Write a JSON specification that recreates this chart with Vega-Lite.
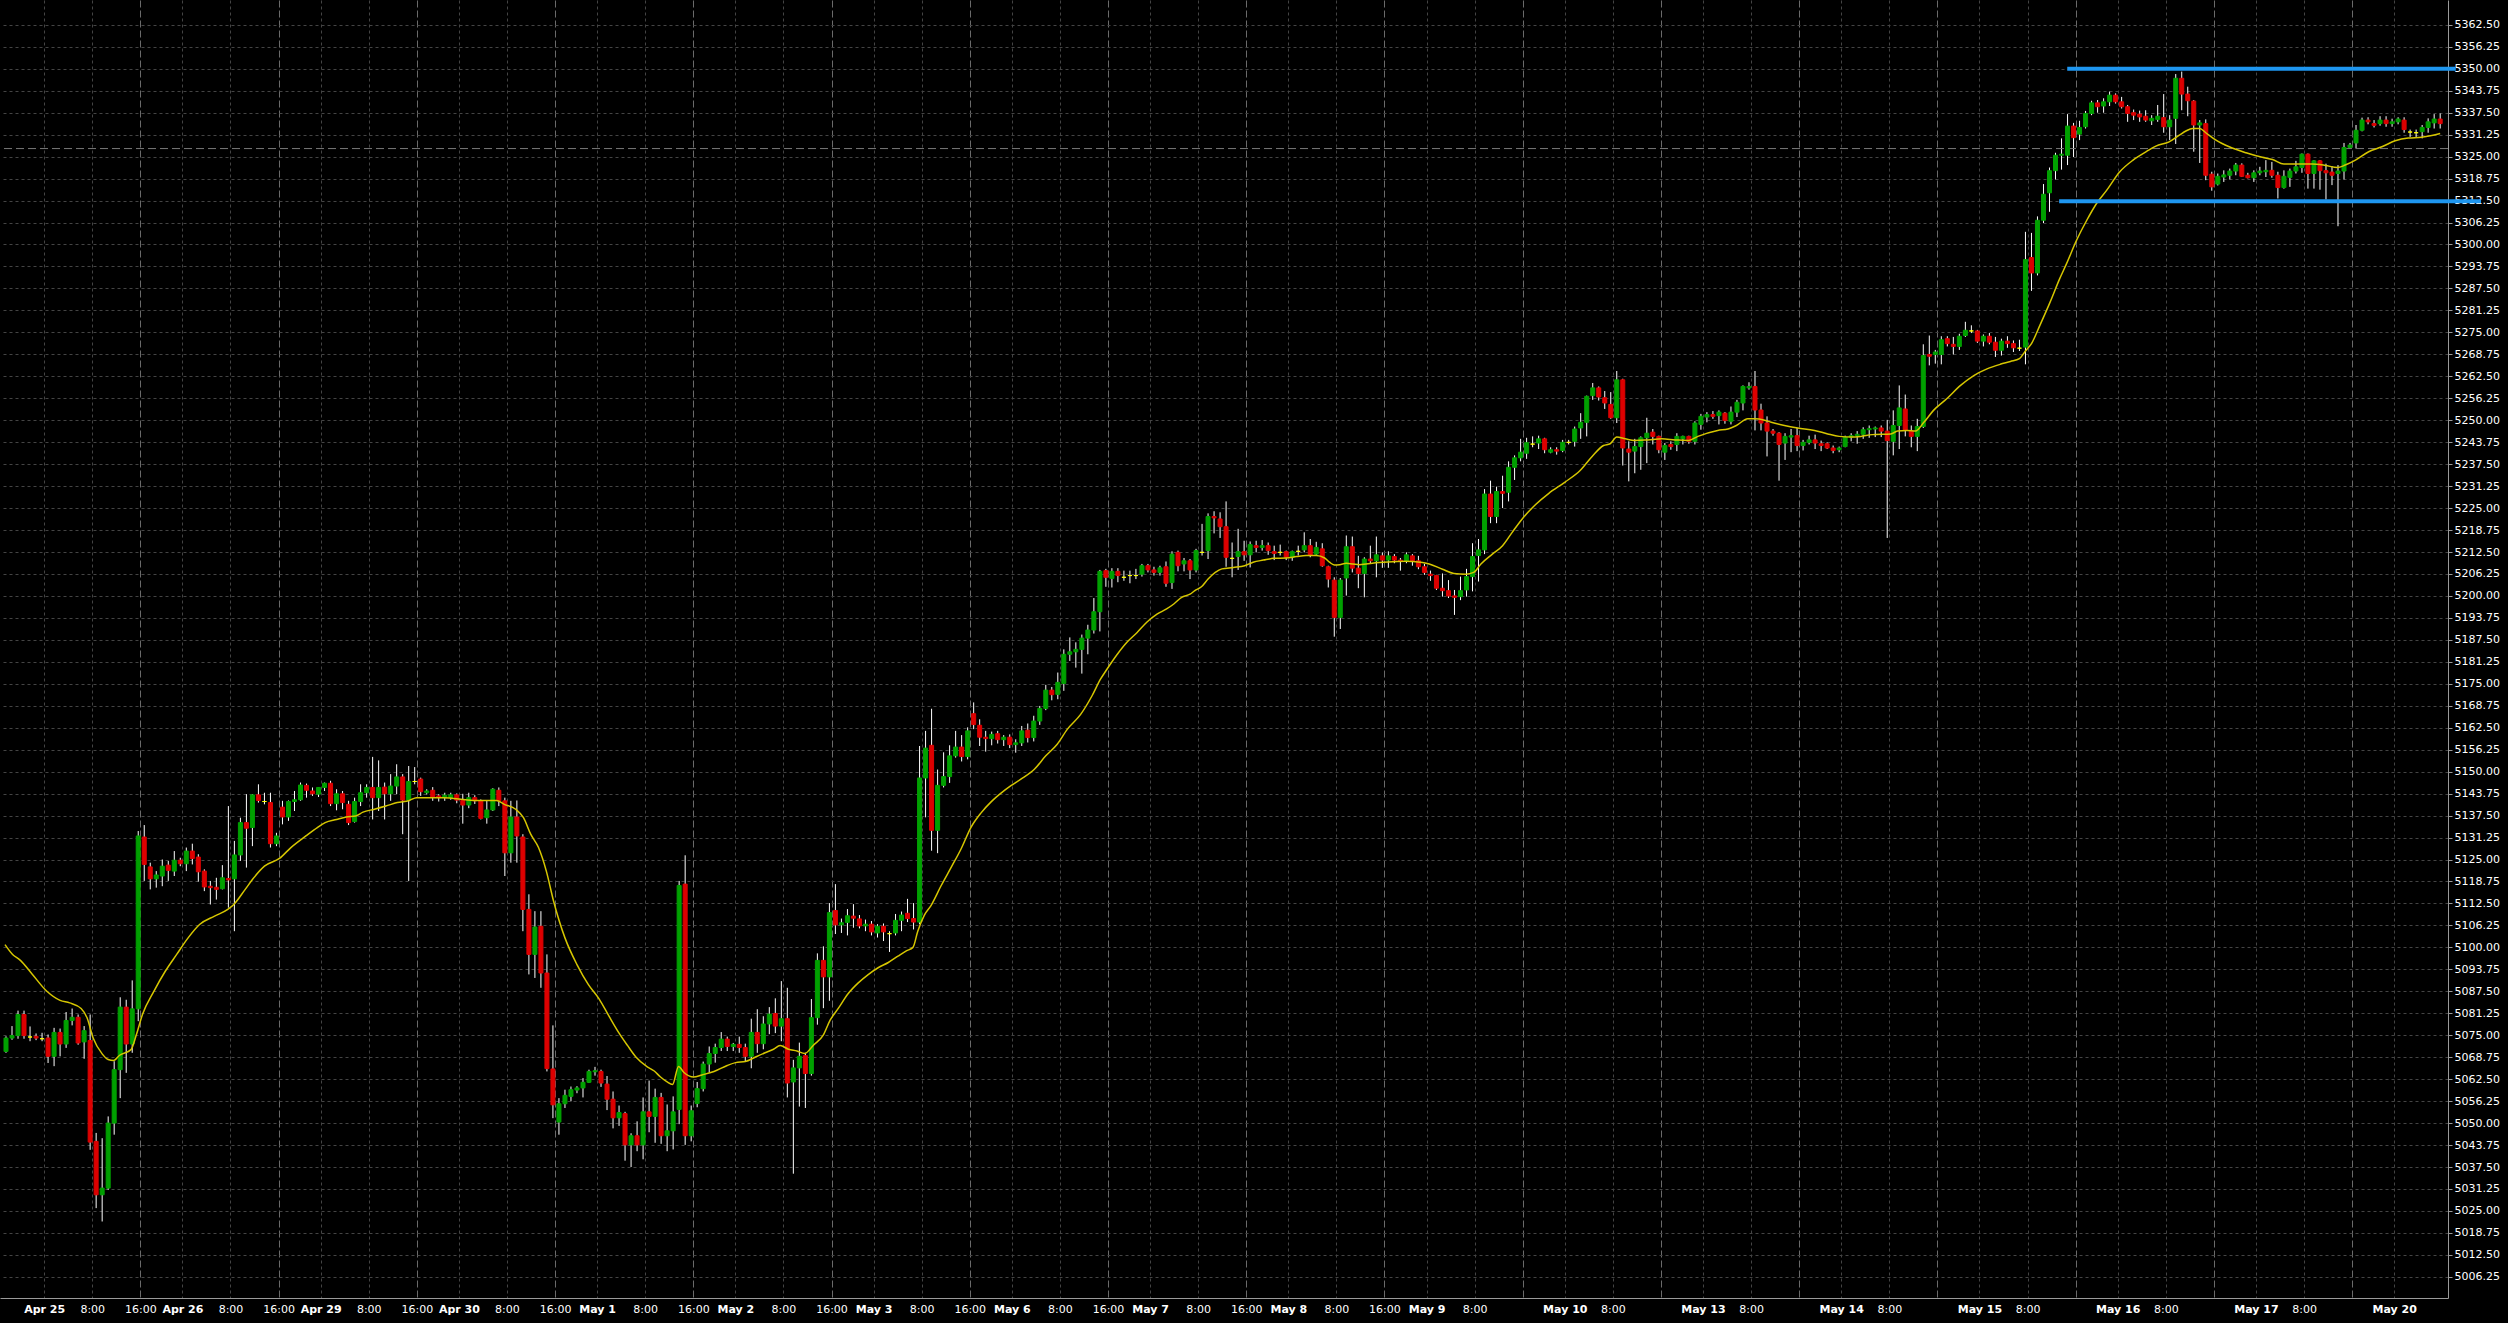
{
"$schema": "https://vega.github.io/schema/vega-lite/v6.json",
"width": 2448,
"height": 1298,
"padding": {"left": 0, "top": 0, "right": 60, "bottom": 25},
"autosize": {"type": "none"},
"background": "#000000",
"config": {"view": {"stroke": null}, "axis": {"labelFont": "DejaVu Sans", "labelFontSize": 11, "labelColor": "#ffffff"}},
"datasets": {
"bars": [
{"i":0,"o":5070.4,"h":5074.7,"l":5070.0,"c":5074.2},
{"i":1,"o":5074.2,"h":5077.6,"l":5073.7,"c":5074.9},
{"i":2,"o":5074.9,"h":5082.0,"l":5074.0,"c":5080.9},
{"i":3,"o":5080.9,"h":5082.0,"l":5074.0,"c":5074.9},
{"i":4,"o":5074.5,"h":5077.5,"l":5073.3,"c":5074.5},
{"i":5,"o":5074.7,"h":5075.5,"l":5073.6,"c":5074.2},
{"i":6,"o":5074.0,"h":5075.7,"l":5073.3,"c":5074.0},
{"i":7,"o":5074.2,"h":5075.2,"l":5067.1,"c":5069.0},
{"i":8,"o":5069.0,"h":5077.1,"l":5066.2,"c":5075.8},
{"i":9,"o":5075.8,"h":5076.9,"l":5069.0,"c":5072.5},
{"i":10,"o":5072.5,"h":5081.6,"l":5071.4,"c":5079.2},
{"i":11,"o":5079.2,"h":5082.6,"l":5077.8,"c":5080.1},
{"i":12,"o":5080.1,"h":5080.9,"l":5072.3,"c":5072.8},
{"i":13,"o":5073.1,"h":5077.6,"l":5068.3,"c":5076.3},
{"i":14,"o":5073.5,"h":5080.9,"l":5042.4,"c":5044.6},
{"i":15,"o":5044.8,"h":5047.2,"l":5025.8,"c":5029.6},
{"i":16,"o":5029.6,"h":5045.7,"l":5022.0,"c":5031.5},
{"i":17,"o":5031.5,"h":5051.9,"l":5031.0,"c":5050.0},
{"i":18,"o":5050.0,"h":5067.6,"l":5046.7,"c":5065.2},
{"i":19,"o":5065.2,"h":5085.8,"l":5057.1,"c":5083.0},
{"i":20,"o":5083.0,"h":5085.1,"l":5064.3,"c":5072.5},
{"i":21,"o":5072.5,"h":5090.6,"l":5070.0,"c":5082.5},
{"i":22,"o":5082.5,"h":5133.1,"l":5079.0,"c":5131.7},
{"i":23,"o":5131.4,"h":5134.8,"l":5118.9,"c":5123.6},
{"i":24,"o":5122.9,"h":5124.1,"l":5116.5,"c":5119.5},
{"i":25,"o":5119.5,"h":5121.7,"l":5117.0,"c":5120.6},
{"i":26,"o":5120.3,"h":5125.0,"l":5117.4,"c":5123.1},
{"i":27,"o":5123.4,"h":5124.6,"l":5118.9,"c":5121.9},
{"i":28,"o":5121.7,"h":5127.4,"l":5120.3,"c":5124.8},
{"i":29,"o":5124.8,"h":5125.5,"l":5123.1,"c":5123.8},
{"i":30,"o":5123.8,"h":5128.4,"l":5121.7,"c":5127.4},
{"i":31,"o":5127.4,"h":5129.5,"l":5123.6,"c":5125.3},
{"i":32,"o":5125.7,"h":5126.5,"l":5118.7,"c":5121.5},
{"i":33,"o":5121.7,"h":5122.2,"l":5116.0,"c":5117.2},
{"i":34,"o":5117.4,"h":5118.9,"l":5112.2,"c":5117.0},
{"i":35,"o":5117.1,"h":5119.8,"l":5113.6,"c":5116.5},
{"i":36,"o":5116.7,"h":5123.4,"l":5116.5,"c":5119.8},
{"i":37,"o":5119.6,"h":5140.2,"l":5111.3,"c":5119.2},
{"i":38,"o":5119.5,"h":5130.3,"l":5104.6,"c":5126.3},
{"i":39,"o":5126.3,"h":5136.9,"l":5124.6,"c":5135.5},
{"i":40,"o":5135.5,"h":5143.6,"l":5122.7,"c":5133.9},
{"i":41,"o":5134.1,"h":5143.6,"l":5128.8,"c":5143.4},
{"i":42,"o":5143.4,"h":5146.4,"l":5141.2,"c":5141.8},
{"i":43,"o":5141.5,"h":5144.0,"l":5140.7,"c":5141.5},
{"i":44,"o":5141.2,"h":5144.0,"l":5128.4,"c":5129.5},
{"i":45,"o":5129.5,"h":5132.6,"l":5128.8,"c":5131.7},
{"i":46,"o":5139.9,"h":5141.7,"l":5135.0,"c":5137.1},
{"i":47,"o":5137.1,"h":5141.8,"l":5136.0,"c":5141.5},
{"i":48,"o":5141.5,"h":5144.5,"l":5138.8,"c":5142.0},
{"i":49,"o":5142.0,"h":5146.9,"l":5141.7,"c":5146.2},
{"i":50,"o":5146.1,"h":5146.6,"l":5142.6,"c":5144.7},
{"i":51,"o":5144.5,"h":5145.5,"l":5143.1,"c":5143.7},
{"i":52,"o":5143.6,"h":5145.6,"l":5142.8,"c":5145.5},
{"i":53,"o":5145.5,"h":5146.9,"l":5144.5,"c":5146.7},
{"i":54,"o":5146.7,"h":5147.4,"l":5140.2,"c":5140.9},
{"i":55,"o":5140.9,"h":5145.0,"l":5139.0,"c":5143.7},
{"i":56,"o":5143.7,"h":5144.5,"l":5139.3,"c":5141.2},
{"i":57,"o":5140.7,"h":5141.7,"l":5134.8,"c":5135.5},
{"i":58,"o":5135.8,"h":5142.6,"l":5135.5,"c":5141.5},
{"i":59,"o":5141.5,"h":5146.4,"l":5140.2,"c":5144.0},
{"i":60,"o":5144.0,"h":5146.4,"l":5142.6,"c":5145.5},
{"i":61,"o":5145.5,"h":5154.2,"l":5136.4,"c":5142.6},
{"i":62,"o":5142.6,"h":5153.2,"l":5138.8,"c":5145.5},
{"i":63,"o":5145.6,"h":5146.9,"l":5136.4,"c":5143.7},
{"i":64,"o":5143.7,"h":5149.3,"l":5141.7,"c":5145.9},
{"i":65,"o":5145.9,"h":5152.1,"l":5143.6,"c":5148.5},
{"i":66,"o":5148.5,"h":5149.3,"l":5132.2,"c":5141.9},
{"i":67,"o":5141.9,"h":5151.6,"l":5118.9,"c":5147.2},
{"i":68,"o":5147.2,"h":5151.3,"l":5146.4,"c":5147.2},
{"i":69,"o":5147.9,"h":5148.3,"l":5143.1,"c":5144.3},
{"i":70,"o":5144.0,"h":5145.0,"l":5143.5,"c":5144.5},
{"i":71,"o":5144.7,"h":5145.6,"l":5141.7,"c":5142.8},
{"i":72,"o":5143.1,"h":5143.6,"l":5141.5,"c":5142.6},
{"i":73,"o":5142.6,"h":5144.0,"l":5141.7,"c":5143.3},
{"i":74,"o":5142.6,"h":5144.0,"l":5142.0,"c":5143.4},
{"i":75,"o":5143.4,"h":5143.8,"l":5141.0,"c":5141.9},
{"i":76,"o":5141.8,"h":5143.7,"l":5135.2,"c":5140.5},
{"i":77,"o":5140.5,"h":5144.0,"l":5139.6,"c":5142.6},
{"i":78,"o":5142.6,"h":5143.3,"l":5140.8,"c":5141.7},
{"i":79,"o":5141.7,"h":5142.1,"l":5136.4,"c":5136.7},
{"i":80,"o":5136.9,"h":5141.7,"l":5135.2,"c":5139.1},
{"i":81,"o":5139.1,"h":5145.3,"l":5138.8,"c":5145.0},
{"i":82,"o":5144.7,"h":5145.5,"l":5140.2,"c":5141.7},
{"i":83,"o":5141.7,"h":5142.6,"l":5120.3,"c":5126.9},
{"i":84,"o":5126.9,"h":5141.7,"l":5124.1,"c":5137.1},
{"i":85,"o":5137.1,"h":5141.8,"l":5124.1,"c":5131.7},
{"i":86,"o":5131.4,"h":5132.2,"l":5104.6,"c":5110.8},
{"i":87,"o":5110.8,"h":5115.1,"l":5092.3,"c":5098.0},
{"i":88,"o":5098.0,"h":5110.3,"l":5091.3,"c":5105.8},
{"i":89,"o":5106.0,"h":5110.3,"l":5088.5,"c":5092.7},
{"i":90,"o":5092.7,"h":5098.0,"l":5064.7,"c":5065.5},
{"i":91,"o":5065.4,"h":5077.8,"l":5051.4,"c":5055.2},
{"i":92,"o":5050.3,"h":5057.1,"l":5046.7,"c":5055.5},
{"i":93,"o":5055.5,"h":5059.5,"l":5054.3,"c":5057.9},
{"i":94,"o":5057.6,"h":5060.4,"l":5056.2,"c":5059.5},
{"i":95,"o":5059.4,"h":5060.5,"l":5058.5,"c":5060.0},
{"i":96,"o":5060.0,"h":5062.8,"l":5057.3,"c":5061.6},
{"i":97,"o":5061.6,"h":5065.2,"l":5061.4,"c":5064.7},
{"i":98,"o":5064.6,"h":5066.0,"l":5063.5,"c":5064.9},
{"i":99,"o":5064.7,"h":5065.2,"l":5060.3,"c":5061.4},
{"i":100,"o":5061.1,"h":5063.4,"l":5053.7,"c":5056.8},
{"i":101,"o":5056.8,"h":5059.0,"l":5048.5,"c":5051.5},
{"i":102,"o":5051.5,"h":5055.0,"l":5049.2,"c":5053.0},
{"i":103,"o":5052.7,"h":5053.2,"l":5039.3,"c":5043.8},
{"i":104,"o":5043.8,"h":5047.1,"l":5037.5,"c":5046.4},
{"i":105,"o":5046.4,"h":5050.5,"l":5042.0,"c":5043.8},
{"i":106,"o":5043.8,"h":5057.3,"l":5039.7,"c":5053.2},
{"i":107,"o":5053.2,"h":5062.1,"l":5047.4,"c":5051.9},
{"i":108,"o":5051.9,"h":5059.8,"l":5044.4,"c":5057.3},
{"i":109,"o":5057.3,"h":5058.6,"l":5044.1,"c":5046.4},
{"i":110,"o":5046.4,"h":5055.3,"l":5042.0,"c":5047.8},
{"i":111,"o":5047.8,"h":5057.6,"l":5042.5,"c":5053.2},
{"i":112,"o":5053.9,"h":5118.9,"l":5049.7,"c":5117.6},
{"i":113,"o":5118.0,"h":5126.2,"l":5043.8,"c":5046.4},
{"i":114,"o":5046.4,"h":5055.0,"l":5044.8,"c":5053.5},
{"i":115,"o":5055.6,"h":5061.7,"l":5054.5,"c":5059.8},
{"i":116,"o":5059.8,"h":5067.5,"l":5059.0,"c":5066.8},
{"i":117,"o":5066.8,"h":5071.8,"l":5064.4,"c":5069.8},
{"i":118,"o":5069.8,"h":5072.6,"l":5067.2,"c":5071.5},
{"i":119,"o":5071.5,"h":5075.9,"l":5070.5,"c":5073.9},
{"i":120,"o":5073.9,"h":5074.6,"l":5070.5,"c":5071.8},
{"i":121,"o":5071.8,"h":5072.8,"l":5070.5,"c":5072.4},
{"i":122,"o":5072.4,"h":5074.6,"l":5070.0,"c":5071.5},
{"i":123,"o":5071.5,"h":5072.6,"l":5067.5,"c":5069.0},
{"i":124,"o":5069.0,"h":5079.7,"l":5065.6,"c":5075.8},
{"i":125,"o":5075.8,"h":5082.4,"l":5070.0,"c":5072.6},
{"i":126,"o":5072.6,"h":5080.4,"l":5071.0,"c":5078.2},
{"i":127,"o":5078.2,"h":5083.0,"l":5075.3,"c":5081.0},
{"i":128,"o":5081.2,"h":5085.5,"l":5075.6,"c":5077.6},
{"i":129,"o":5077.6,"h":5090.4,"l":5073.3,"c":5079.7},
{"i":130,"o":5079.7,"h":5088.5,"l":5057.3,"c":5061.4},
{"i":131,"o":5061.7,"h":5068.0,"l":5035.6,"c":5065.7},
{"i":132,"o":5065.7,"h":5072.9,"l":5054.7,"c":5069.0},
{"i":133,"o":5069.2,"h":5070.0,"l":5054.3,"c":5064.1},
{"i":134,"o":5064.1,"h":5085.3,"l":5063.5,"c":5080.0},
{"i":135,"o":5080.0,"h":5098.3,"l":5078.0,"c":5096.3},
{"i":136,"o":5096.3,"h":5100.3,"l":5082.7,"c":5091.6},
{"i":137,"o":5091.6,"h":5112.6,"l":5084.8,"c":5109.9},
{"i":138,"o":5110.5,"h":5118.0,"l":5103.8,"c":5106.4},
{"i":139,"o":5106.4,"h":5108.2,"l":5104.1,"c":5107.0},
{"i":140,"o":5107.1,"h":5110.9,"l":5103.4,"c":5109.0},
{"i":141,"o":5108.9,"h":5112.3,"l":5105.6,"c":5108.3},
{"i":142,"o":5108.1,"h":5109.2,"l":5105.4,"c":5106.1},
{"i":143,"o":5106.1,"h":5107.9,"l":5104.6,"c":5106.6},
{"i":144,"o":5106.6,"h":5107.5,"l":5103.4,"c":5104.4},
{"i":145,"o":5104.1,"h":5106.6,"l":5102.8,"c":5106.0},
{"i":146,"o":5106.0,"h":5106.8,"l":5101.8,"c":5104.4},
{"i":147,"o":5103.9,"h":5104.6,"l":5098.7,"c":5103.9},
{"i":148,"o":5104.1,"h":5109.5,"l":5103.4,"c":5107.7},
{"i":149,"o":5107.7,"h":5110.2,"l":5104.6,"c":5109.2},
{"i":150,"o":5109.7,"h":5113.8,"l":5107.2,"c":5108.2},
{"i":151,"o":5108.2,"h":5112.6,"l":5105.1,"c":5107.2},
{"i":152,"o":5107.2,"h":5157.3,"l":5106.6,"c":5148.2},
{"i":153,"o":5148.2,"h":5161.6,"l":5137.0,"c":5156.7},
{"i":154,"o":5157.5,"h":5167.9,"l":5127.5,"c":5133.3},
{"i":155,"o":5133.3,"h":5150.6,"l":5126.8,"c":5146.1},
{"i":156,"o":5146.1,"h":5155.5,"l":5145.5,"c":5148.6},
{"i":157,"o":5148.6,"h":5157.5,"l":5146.8,"c":5154.5},
{"i":158,"o":5154.5,"h":5161.6,"l":5154.0,"c":5157.0},
{"i":159,"o":5157.0,"h":5160.4,"l":5152.9,"c":5154.3},
{"i":160,"o":5154.3,"h":5162.6,"l":5153.5,"c":5161.6},
{"i":161,"o":5166.5,"h":5169.7,"l":5162.1,"c":5163.4},
{"i":162,"o":5163.2,"h":5164.9,"l":5157.3,"c":5159.8},
{"i":163,"o":5159.8,"h":5161.6,"l":5155.7,"c":5159.4},
{"i":164,"o":5159.4,"h":5161.4,"l":5157.5,"c":5160.6},
{"i":165,"o":5160.8,"h":5161.6,"l":5158.0,"c":5159.1},
{"i":166,"o":5159.1,"h":5160.4,"l":5157.3,"c":5159.8},
{"i":167,"o":5159.8,"h":5160.6,"l":5156.7,"c":5157.7},
{"i":168,"o":5157.7,"h":5159.2,"l":5155.4,"c":5158.2},
{"i":169,"o":5158.2,"h":5163.0,"l":5157.3,"c":5161.6},
{"i":170,"o":5161.8,"h":5163.7,"l":5158.3,"c":5159.7},
{"i":171,"o":5159.7,"h":5165.9,"l":5158.6,"c":5164.4},
{"i":172,"o":5164.4,"h":5168.7,"l":5163.3,"c":5168.0},
{"i":173,"o":5168.0,"h":5174.7,"l":5167.5,"c":5173.2},
{"i":174,"o":5173.2,"h":5174.1,"l":5170.3,"c":5171.9},
{"i":175,"o":5172.0,"h":5178.2,"l":5170.6,"c":5175.4},
{"i":176,"o":5175.1,"h":5184.8,"l":5173.0,"c":5183.4},
{"i":177,"o":5183.4,"h":5188.2,"l":5181.5,"c":5184.1},
{"i":178,"o":5184.1,"h":5186.8,"l":5179.6,"c":5184.8},
{"i":179,"o":5184.8,"h":5189.0,"l":5177.9,"c":5188.0},
{"i":180,"o":5188.0,"h":5191.8,"l":5183.4,"c":5190.3},
{"i":181,"o":5190.3,"h":5199.4,"l":5189.3,"c":5195.5},
{"i":182,"o":5195.5,"h":5207.4,"l":5189.9,"c":5207.0},
{"i":183,"o":5207.2,"h":5207.7,"l":5202.6,"c":5205.3},
{"i":184,"o":5205.0,"h":5207.9,"l":5202.4,"c":5207.0},
{"i":185,"o":5207.0,"h":5207.9,"l":5203.9,"c":5205.8},
{"i":186,"o":5205.3,"h":5207.2,"l":5204.3,"c":5205.3},
{"i":187,"o":5205.8,"h":5207.2,"l":5203.6,"c":5205.8},
{"i":188,"o":5205.8,"h":5207.7,"l":5204.8,"c":5205.8},
{"i":189,"o":5206.2,"h":5209.1,"l":5205.5,"c":5208.6},
{"i":190,"o":5208.6,"h":5209.1,"l":5206.7,"c":5207.4},
{"i":191,"o":5207.4,"h":5208.3,"l":5205.8,"c":5206.7},
{"i":192,"o":5206.7,"h":5208.6,"l":5205.8,"c":5208.0},
{"i":193,"o":5208.3,"h":5209.8,"l":5202.6,"c":5203.6},
{"i":194,"o":5203.8,"h":5212.7,"l":5202.0,"c":5211.9},
{"i":195,"o":5212.4,"h":5212.9,"l":5207.0,"c":5208.6},
{"i":196,"o":5209.1,"h":5210.8,"l":5207.0,"c":5210.0},
{"i":197,"o":5210.0,"h":5210.5,"l":5204.8,"c":5207.4},
{"i":198,"o":5207.4,"h":5213.4,"l":5206.7,"c":5212.9},
{"i":199,"o":5212.4,"h":5220.5,"l":5211.5,"c":5212.4},
{"i":200,"o":5212.9,"h":5223.5,"l":5210.5,"c":5222.6},
{"i":201,"o":5222.6,"h":5224.1,"l":5217.8,"c":5222.2},
{"i":202,"o":5221.9,"h":5223.8,"l":5216.5,"c":5219.7},
{"i":203,"o":5219.7,"h":5226.9,"l":5208.3,"c":5211.0},
{"i":204,"o":5210.7,"h":5215.2,"l":5205.3,"c":5210.7},
{"i":205,"o":5211.2,"h":5219.1,"l":5207.4,"c":5212.6},
{"i":206,"o":5212.6,"h":5215.7,"l":5210.0,"c":5211.7},
{"i":207,"o":5211.7,"h":5215.5,"l":5208.1,"c":5214.6},
{"i":208,"o":5214.3,"h":5215.7,"l":5212.4,"c":5213.8},
{"i":209,"o":5213.8,"h":5215.9,"l":5212.9,"c":5214.3},
{"i":210,"o":5214.3,"h":5215.2,"l":5211.7,"c":5212.9},
{"i":211,"o":5212.6,"h":5214.3,"l":5210.2,"c":5212.1},
{"i":212,"o":5212.4,"h":5214.6,"l":5211.5,"c":5212.4},
{"i":213,"o":5212.6,"h":5212.9,"l":5210.2,"c":5211.0},
{"i":214,"o":5211.0,"h":5212.9,"l":5210.0,"c":5212.6},
{"i":215,"o":5212.7,"h":5214.3,"l":5211.5,"c":5212.7},
{"i":216,"o":5213.1,"h":5218.1,"l":5212.4,"c":5214.3},
{"i":217,"o":5214.3,"h":5216.2,"l":5211.0,"c":5211.7},
{"i":218,"o":5211.9,"h":5215.4,"l":5211.5,"c":5213.8},
{"i":219,"o":5213.4,"h":5215.0,"l":5208.3,"c":5208.6},
{"i":220,"o":5208.3,"h":5208.6,"l":5202.4,"c":5204.8},
{"i":221,"o":5204.5,"h":5205.3,"l":5188.4,"c":5193.9},
{"i":222,"o":5193.9,"h":5205.1,"l":5190.6,"c":5204.5},
{"i":223,"o":5205.1,"h":5217.2,"l":5200.1,"c":5214.0},
{"i":224,"o":5214.0,"h":5216.9,"l":5206.7,"c":5207.9},
{"i":225,"o":5207.9,"h":5211.4,"l":5202.2,"c":5206.4},
{"i":226,"o":5206.4,"h":5211.0,"l":5199.6,"c":5210.5},
{"i":227,"o":5210.5,"h":5214.3,"l":5209.1,"c":5210.0},
{"i":228,"o":5210.0,"h":5216.9,"l":5205.3,"c":5211.7},
{"i":229,"o":5211.4,"h":5212.4,"l":5208.0,"c":5210.2},
{"i":230,"o":5210.2,"h":5212.7,"l":5208.0,"c":5211.4},
{"i":231,"o":5211.2,"h":5211.9,"l":5209.3,"c":5210.2},
{"i":232,"o":5210.2,"h":5210.8,"l":5207.2,"c":5209.8},
{"i":233,"o":5210.0,"h":5212.4,"l":5209.3,"c":5211.7},
{"i":234,"o":5211.4,"h":5211.9,"l":5208.6,"c":5210.0},
{"i":235,"o":5210.0,"h":5211.4,"l":5207.6,"c":5208.3},
{"i":236,"o":5208.3,"h":5209.1,"l":5206.0,"c":5206.7},
{"i":237,"o":5206.2,"h":5207.2,"l":5204.3,"c":5205.8},
{"i":238,"o":5205.8,"h":5206.0,"l":5201.7,"c":5202.2},
{"i":239,"o":5202.2,"h":5206.4,"l":5199.8,"c":5201.5},
{"i":240,"o":5201.5,"h":5204.5,"l":5199.4,"c":5200.0},
{"i":241,"o":5200.0,"h":5201.7,"l":5194.6,"c":5199.6},
{"i":242,"o":5199.8,"h":5205.5,"l":5198.8,"c":5201.5},
{"i":243,"o":5201.7,"h":5207.7,"l":5199.8,"c":5205.5},
{"i":244,"o":5205.5,"h":5215.0,"l":5201.3,"c":5211.2},
{"i":245,"o":5211.5,"h":5216.2,"l":5204.1,"c":5213.1},
{"i":246,"o":5213.1,"h":5230.4,"l":5211.9,"c":5229.0},
{"i":247,"o":5229.0,"h":5232.8,"l":5220.7,"c":5222.6},
{"i":248,"o":5222.6,"h":5231.1,"l":5220.7,"c":5229.7},
{"i":249,"o":5229.7,"h":5234.2,"l":5225.0,"c":5229.2},
{"i":250,"o":5229.5,"h":5238.3,"l":5226.9,"c":5236.6},
{"i":251,"o":5236.6,"h":5240.0,"l":5233.0,"c":5239.3},
{"i":252,"o":5239.3,"h":5244.7,"l":5238.3,"c":5240.9},
{"i":253,"o":5240.6,"h":5245.0,"l":5239.0,"c":5243.6},
{"i":254,"o":5243.2,"h":5245.4,"l":5242.3,"c":5243.2},
{"i":255,"o":5243.5,"h":5245.6,"l":5241.8,"c":5244.7},
{"i":256,"o":5244.7,"h":5245.0,"l":5240.6,"c":5241.6},
{"i":257,"o":5240.9,"h":5242.3,"l":5240.6,"c":5241.6},
{"i":258,"o":5241.6,"h":5242.3,"l":5240.2,"c":5241.2},
{"i":259,"o":5241.4,"h":5244.4,"l":5240.9,"c":5243.7},
{"i":260,"o":5243.7,"h":5244.4,"l":5243.1,"c":5243.7},
{"i":261,"o":5244.0,"h":5248.2,"l":5242.5,"c":5247.5},
{"i":262,"o":5247.8,"h":5252.0,"l":5244.7,"c":5249.4},
{"i":263,"o":5249.4,"h":5257.0,"l":5245.4,"c":5256.8},
{"i":264,"o":5257.0,"h":5260.6,"l":5255.8,"c":5259.2},
{"i":265,"o":5259.2,"h":5259.6,"l":5255.6,"c":5256.6},
{"i":266,"o":5256.4,"h":5258.3,"l":5253.2,"c":5254.9},
{"i":267,"o":5254.5,"h":5258.0,"l":5250.4,"c":5250.7},
{"i":268,"o":5250.7,"h":5264.0,"l":5249.2,"c":5261.5},
{"i":269,"o":5261.5,"h":5261.8,"l":5237.1,"c":5242.1},
{"i":270,"o":5241.8,"h":5244.0,"l":5232.6,"c":5240.9},
{"i":271,"o":5241.2,"h":5244.7,"l":5234.9,"c":5242.5},
{"i":272,"o":5242.5,"h":5245.4,"l":5235.9,"c":5245.0},
{"i":273,"o":5245.0,"h":5250.7,"l":5237.8,"c":5246.3},
{"i":274,"o":5246.6,"h":5247.5,"l":5243.1,"c":5245.4},
{"i":275,"o":5245.4,"h":5245.6,"l":5240.6,"c":5241.6},
{"i":276,"o":5240.9,"h":5243.5,"l":5238.7,"c":5242.8},
{"i":277,"o":5243.1,"h":5244.0,"l":5241.6,"c":5242.5},
{"i":278,"o":5243.1,"h":5246.3,"l":5241.2,"c":5245.4},
{"i":279,"o":5244.7,"h":5245.6,"l":5243.1,"c":5245.4},
{"i":280,"o":5245.4,"h":5245.6,"l":5243.3,"c":5244.0},
{"i":281,"o":5244.0,"h":5249.7,"l":5243.1,"c":5249.2},
{"i":282,"o":5248.8,"h":5251.8,"l":5247.3,"c":5251.1},
{"i":283,"o":5250.9,"h":5252.3,"l":5249.4,"c":5251.6},
{"i":284,"o":5251.6,"h":5252.6,"l":5250.4,"c":5251.1},
{"i":285,"o":5251.3,"h":5252.8,"l":5248.8,"c":5252.3},
{"i":286,"o":5252.0,"h":5252.3,"l":5249.0,"c":5249.9},
{"i":287,"o":5249.7,"h":5253.9,"l":5248.8,"c":5252.3},
{"i":288,"o":5252.3,"h":5255.8,"l":5250.9,"c":5255.1},
{"i":289,"o":5254.9,"h":5259.9,"l":5252.8,"c":5259.6},
{"i":290,"o":5259.2,"h":5260.8,"l":5258.7,"c":5259.6},
{"i":291,"o":5259.6,"h":5264.0,"l":5247.1,"c":5252.9},
{"i":292,"o":5252.9,"h":5254.7,"l":5247.1,"c":5249.2},
{"i":293,"o":5249.2,"h":5251.1,"l":5239.7,"c":5246.9},
{"i":294,"o":5246.9,"h":5247.5,"l":5245.6,"c":5246.3},
{"i":295,"o":5246.3,"h":5246.6,"l":5232.8,"c":5243.1},
{"i":296,"o":5243.5,"h":5246.3,"l":5238.7,"c":5245.4},
{"i":297,"o":5245.2,"h":5247.5,"l":5240.9,"c":5245.6},
{"i":298,"o":5245.6,"h":5247.8,"l":5241.2,"c":5242.8},
{"i":299,"o":5242.8,"h":5244.4,"l":5241.4,"c":5243.7},
{"i":300,"o":5243.7,"h":5245.6,"l":5243.1,"c":5244.4},
{"i":301,"o":5244.4,"h":5245.9,"l":5241.8,"c":5243.5},
{"i":302,"o":5243.3,"h":5244.2,"l":5241.2,"c":5242.8},
{"i":303,"o":5243.3,"h":5243.7,"l":5241.8,"c":5242.1},
{"i":304,"o":5242.1,"h":5242.8,"l":5240.6,"c":5241.4},
{"i":305,"o":5241.6,"h":5242.5,"l":5240.9,"c":5242.1},
{"i":306,"o":5242.5,"h":5245.6,"l":5242.3,"c":5245.2},
{"i":307,"o":5245.2,"h":5246.3,"l":5244.0,"c":5245.6},
{"i":308,"o":5245.6,"h":5246.9,"l":5243.3,"c":5246.0},
{"i":309,"o":5246.0,"h":5248.0,"l":5244.7,"c":5247.3},
{"i":310,"o":5247.3,"h":5248.5,"l":5245.0,"c":5247.6},
{"i":311,"o":5247.5,"h":5248.2,"l":5245.2,"c":5247.8},
{"i":312,"o":5247.8,"h":5248.5,"l":5245.2,"c":5246.9},
{"i":313,"o":5246.9,"h":5250.1,"l":5216.5,"c":5244.2},
{"i":314,"o":5244.0,"h":5252.8,"l":5240.0,"c":5248.5},
{"i":315,"o":5248.5,"h":5259.9,"l":5241.8,"c":5253.5},
{"i":316,"o":5253.2,"h":5257.3,"l":5245.4,"c":5247.1},
{"i":317,"o":5246.9,"h":5248.5,"l":5242.3,"c":5245.4},
{"i":318,"o":5245.4,"h":5250.4,"l":5241.2,"c":5248.2},
{"i":319,"o":5248.2,"h":5271.6,"l":5247.8,"c":5268.4},
{"i":320,"o":5268.7,"h":5274.1,"l":5265.6,"c":5268.2},
{"i":321,"o":5268.7,"h":5270.0,"l":5266.1,"c":5269.4},
{"i":322,"o":5268.7,"h":5273.9,"l":5265.9,"c":5272.9},
{"i":323,"o":5273.2,"h":5273.9,"l":5271.0,"c":5271.8},
{"i":324,"o":5271.6,"h":5273.7,"l":5268.7,"c":5271.0},
{"i":325,"o":5271.0,"h":5274.6,"l":5270.0,"c":5273.9},
{"i":326,"o":5274.1,"h":5278.0,"l":5273.7,"c":5275.6},
{"i":327,"o":5275.4,"h":5277.0,"l":5274.8,"c":5275.4},
{"i":328,"o":5275.4,"h":5275.7,"l":5272.0,"c":5272.5},
{"i":329,"o":5272.5,"h":5274.4,"l":5271.0,"c":5273.9},
{"i":330,"o":5273.9,"h":5274.8,"l":5271.6,"c":5272.2},
{"i":331,"o":5272.2,"h":5273.7,"l":5268.0,"c":5269.9},
{"i":332,"o":5269.9,"h":5273.2,"l":5268.4,"c":5272.5},
{"i":333,"o":5272.5,"h":5273.9,"l":5270.6,"c":5271.8},
{"i":334,"o":5271.8,"h":5272.7,"l":5269.4,"c":5270.6},
{"i":335,"o":5270.5,"h":5272.9,"l":5269.7,"c":5270.5},
{"i":336,"o":5270.8,"h":5303.6,"l":5265.9,"c":5295.7},
{"i":337,"o":5296.3,"h":5303.3,"l":5286.8,"c":5291.9},
{"i":338,"o":5291.9,"h":5308.0,"l":5291.2,"c":5306.9},
{"i":339,"o":5306.9,"h":5317.2,"l":5306.1,"c":5314.3},
{"i":340,"o":5314.7,"h":5321.9,"l":5309.3,"c":5321.0},
{"i":341,"o":5321.0,"h":5326.1,"l":5318.5,"c":5325.4},
{"i":342,"o":5325.4,"h":5330.2,"l":5321.3,"c":5325.7},
{"i":343,"o":5325.4,"h":5337.1,"l":5322.6,"c":5333.7},
{"i":344,"o":5333.7,"h":5334.6,"l":5324.9,"c":5330.4},
{"i":345,"o":5331.4,"h":5335.2,"l":5329.7,"c":5333.3},
{"i":346,"o":5333.5,"h":5338.0,"l":5333.0,"c":5337.3},
{"i":347,"o":5337.3,"h":5340.9,"l":5336.8,"c":5340.3},
{"i":348,"o":5340.3,"h":5341.1,"l":5337.5,"c":5339.2},
{"i":349,"o":5339.4,"h":5341.6,"l":5337.5,"c":5340.6},
{"i":350,"o":5340.6,"h":5343.5,"l":5339.4,"c":5342.5},
{"i":351,"o":5342.5,"h":5343.0,"l":5340.1,"c":5340.6},
{"i":352,"o":5340.6,"h":5342.0,"l":5338.7,"c":5339.2},
{"i":353,"o":5339.2,"h":5339.7,"l":5334.9,"c":5337.3},
{"i":354,"o":5337.5,"h":5338.4,"l":5335.4,"c":5336.8},
{"i":355,"o":5337.1,"h":5338.1,"l":5334.9,"c":5336.3},
{"i":356,"o":5336.5,"h":5338.2,"l":5334.9,"c":5335.4},
{"i":357,"o":5335.2,"h":5336.8,"l":5334.0,"c":5335.9},
{"i":358,"o":5335.6,"h":5339.7,"l":5334.9,"c":5336.5},
{"i":359,"o":5336.1,"h":5342.8,"l":5331.8,"c":5333.5},
{"i":360,"o":5333.5,"h":5336.8,"l":5329.7,"c":5335.4},
{"i":361,"o":5335.9,"h":5348.5,"l":5328.6,"c":5347.3},
{"i":362,"o":5347.3,"h":5349.2,"l":5338.2,"c":5342.8},
{"i":363,"o":5342.8,"h":5344.9,"l":5336.5,"c":5340.9},
{"i":364,"o":5340.8,"h":5341.1,"l":5326.4,"c":5334.0},
{"i":365,"o":5334.0,"h":5335.4,"l":5323.2,"c":5334.6},
{"i":366,"o":5334.4,"h":5335.6,"l":5318.3,"c":5319.7},
{"i":367,"o":5320.0,"h":5320.7,"l":5315.3,"c":5316.4},
{"i":368,"o":5317.2,"h":5320.2,"l":5316.8,"c":5319.4},
{"i":369,"o":5319.2,"h":5321.1,"l":5317.8,"c":5319.8},
{"i":370,"o":5319.7,"h":5321.6,"l":5318.5,"c":5320.9},
{"i":371,"o":5320.9,"h":5323.2,"l":5319.7,"c":5322.6},
{"i":372,"o":5322.6,"h":5323.1,"l":5319.2,"c":5319.4},
{"i":373,"o":5319.7,"h":5320.4,"l":5318.8,"c":5319.0},
{"i":374,"o":5319.0,"h":5321.1,"l":5317.8,"c":5320.4},
{"i":375,"o":5320.4,"h":5322.1,"l":5319.7,"c":5320.9},
{"i":376,"o":5320.7,"h":5324.0,"l":5319.2,"c":5321.1},
{"i":377,"o":5321.1,"h":5323.5,"l":5319.0,"c":5319.7},
{"i":378,"o":5319.7,"h":5320.7,"l":5313.1,"c":5316.2},
{"i":379,"o":5316.2,"h":5321.1,"l":5315.9,"c":5319.4},
{"i":380,"o":5319.1,"h":5321.6,"l":5316.4,"c":5320.9},
{"i":381,"o":5320.9,"h":5323.8,"l":5320.2,"c":5322.1},
{"i":382,"o":5321.9,"h":5325.9,"l":5320.4,"c":5325.7},
{"i":383,"o":5325.7,"h":5325.9,"l":5315.9,"c":5320.2},
{"i":384,"o":5320.2,"h":5324.0,"l":5315.9,"c":5323.8},
{"i":385,"o":5323.8,"h":5324.0,"l":5315.6,"c":5321.0},
{"i":386,"o":5321.0,"h":5323.0,"l":5312.8,"c":5320.4},
{"i":387,"o":5320.6,"h":5322.3,"l":5316.9,"c":5319.7},
{"i":388,"o":5320.2,"h":5322.6,"l":5305.2,"c":5320.9},
{"i":389,"o":5320.9,"h":5328.9,"l":5318.5,"c":5327.6},
{"i":390,"o":5327.6,"h":5328.9,"l":5327.3,"c":5328.3},
{"i":391,"o":5328.9,"h":5334.0,"l":5327.3,"c":5332.5},
{"i":392,"o":5332.5,"h":5336.1,"l":5332.2,"c":5335.4},
{"i":393,"o":5335.4,"h":5336.2,"l":5334.2,"c":5334.9},
{"i":394,"o":5334.4,"h":5335.4,"l":5333.3,"c":5333.9},
{"i":395,"o":5334.4,"h":5336.5,"l":5333.8,"c":5335.4},
{"i":396,"o":5335.4,"h":5336.5,"l":5333.5,"c":5334.4},
{"i":397,"o":5334.4,"h":5335.8,"l":5333.5,"c":5334.9},
{"i":398,"o":5334.9,"h":5336.2,"l":5334.2,"c":5335.7},
{"i":399,"o":5335.4,"h":5336.2,"l":5331.8,"c":5332.7},
{"i":400,"o":5332.0,"h":5332.7,"l":5330.6,"c":5332.0},
{"i":401,"o":5331.8,"h":5332.7,"l":5330.4,"c":5331.8},
{"i":402,"o":5332.1,"h":5334.0,"l":5330.2,"c":5333.3},
{"i":403,"o":5333.3,"h":5335.9,"l":5331.8,"c":5334.9},
{"i":404,"o":5334.6,"h":5337.1,"l":5333.0,"c":5335.7},
{"i":405,"o":5335.7,"h":5337.3,"l":5333.0,"c":5334.4}
],
"ma": [
{"i":-0.17,"v":5100.8},{"i":1.1,"v":5098.0},{"i":2.4,"v":5096.3},{"i":4.3,"v":5092.5},{"i":6.8,"v":5087.5},{"i":9.0,"v":5084.9},{"i":10.6,"v":5084.2},{"i":12.5,"v":5082.6},{"i":13.5,"v":5079.9},{"i":14.5,"v":5074.2},{"i":16.0,"v":5069.7},{"i":17.0,"v":5068.1},{"i":17.9,"v":5067.8},{"i":18.9,"v":5069.3},{"i":20.8,"v":5070.9},{"i":21.7,"v":5075.2},{"i":22.7,"v":5080.9},{"i":24.6,"v":5087.5},{"i":26.5,"v":5093.2},{"i":28.4,"v":5098.0},{"i":30.3,"v":5102.7},{"i":32.2,"v":5106.5},{"i":34.7,"v":5108.9},{"i":36.9,"v":5110.8},{"i":37.9,"v":5112.2},{"i":39.8,"v":5116.5},{"i":41.0,"v":5119.3},{"i":43.0,"v":5123.1},{"i":45.5,"v":5125.3},{"i":47.4,"v":5128.4},{"i":49.9,"v":5131.7},{"i":51.8,"v":5134.1},{"i":53.1,"v":5135.5},{"i":55.0,"v":5136.4},{"i":56.6,"v":5137.1},{"i":58.2,"v":5137.4},{"i":59.4,"v":5138.5},{"i":61.3,"v":5139.3},{"i":63.2,"v":5140.2},{"i":65.1,"v":5141.2},{"i":67.1,"v":5141.8},{"i":68.3,"v":5142.6},{"i":72.8,"v":5142.6},{"i":77.8,"v":5141.8},{"i":81.6,"v":5141.8},{"i":82.9,"v":5140.7},{"i":84.8,"v":5139.3},{"i":86.1,"v":5136.9},{"i":87.3,"v":5132.2},{"i":88.6,"v":5128.4},{"i":89.9,"v":5121.7},{"i":91.1,"v":5113.2},{"i":93.0,"v":5102.7},{"i":95.0,"v":5095.1},{"i":96.9,"v":5089.4},
{"i":98.7,"v":5085.3},{"i":100.4,"v":5080.2},{"i":102.0,"v":5075.6},{"i":103.4,"v":5072.1},{"i":104.8,"v":5068.8},{"i":106.7,"v":5066.0},{"i":107.8,"v":5064.9},{"i":108.9,"v":5063.1},{"i":110.0,"v":5061.7},{"i":110.9,"v":5061.0},{"i":111.9,"v":5066.1},{"i":112.8,"v":5064.4},{"i":114.4,"v":5063.1},{"i":115.8,"v":5063.7},{"i":117.8,"v":5064.7},{"i":120.0,"v":5066.4},{"i":121.4,"v":5067.2},{"i":123.0,"v":5067.5},{"i":124.7,"v":5068.8},{"i":126.3,"v":5070.0},{"i":127.7,"v":5071.0},{"i":128.8,"v":5072.1},{"i":130.2,"v":5071.0},{"i":131.6,"v":5070.5},{"i":132.9,"v":5069.8},{"i":134.3,"v":5072.1},{"i":136.0,"v":5075.1},{"i":137.1,"v":5079.2},{"i":138.5,"v":5082.7},{"i":140.1,"v":5086.8},{"i":141.8,"v":5089.9},{"i":143.4,"v":5092.2},{"i":145.1,"v":5094.2},{"i":146.8,"v":5095.7},{"i":148.4,"v":5097.5},{"i":149.8,"v":5099.0},{"i":150.9,"v":5100.0},{"i":151.7,"v":5104.6},{"i":152.8,"v":5109.2},{"i":153.9,"v":5111.9},{"i":155.6,"v":5117.6},{"i":157.3,"v":5122.9},{"i":158.9,"v":5128.0},{"i":160.6,"v":5134.3},{"i":162.2,"v":5138.2},{"i":163.9,"v":5141.4},
{"i":165.5,"v":5143.8},{"i":167.2,"v":5146.0},{"i":168.8,"v":5147.8},{"i":171.1,"v":5150.7},{"i":173.0,"v":5154.5},{"i":174.9,"v":5157.8},{"i":176.6,"v":5162.1},{"i":178.8,"v":5166.3},{"i":180.7,"v":5171.6},{"i":182.1,"v":5176.3},{"i":183.2,"v":5179.2},{"i":184.9,"v":5183.4},{"i":186.5,"v":5186.8},{"i":188.2,"v":5189.6},{"i":189.8,"v":5192.5},{"i":191.5,"v":5194.8},{"i":193.1,"v":5196.3},{"i":194.3,"v":5197.7},{"i":195.6,"v":5199.6},{"i":197.0,"v":5200.5},{"i":197.8,"v":5201.5},{"i":198.9,"v":5202.6},{"i":200.0,"v":5204.8},{"i":201.2,"v":5206.7},{"i":202.3,"v":5207.7},{"i":204.2,"v":5208.1},{"i":206.1,"v":5208.6},{"i":207.5,"v":5209.6},{"i":209.2,"v":5210.2},{"i":210.8,"v":5210.7},{"i":213.0,"v":5210.8},{"i":214.7,"v":5211.2},{"i":216.3,"v":5211.5},{"i":218.0,"v":5211.5},{"i":219.4,"v":5210.8},{"i":220.2,"v":5209.6},{"i":221.0,"v":5208.8},{"i":221.9,"v":5208.9},{"i":223.0,"v":5209.3},{"i":224.1,"v":5209.1},{"i":225.2,"v":5208.9},{"i":226.3,"v":5209.1},{"i":228.5,"v":5209.5},{"i":230.7,"v":5209.7},
{"i":232.9,"v":5209.9},{"i":234.0,"v":5209.8},{"i":236.8,"v":5209.1},{"i":239.0,"v":5207.6},{"i":240.9,"v":5206.4},{"i":242.9,"v":5206.2},{"i":244.2,"v":5206.7},{"i":245.4,"v":5209.1},{"i":247.3,"v":5211.9},{"i":249.0,"v":5214.3},{"i":250.6,"v":5218.1},{"i":252.5,"v":5222.4},{"i":254.5,"v":5226.0},{"i":256.7,"v":5229.2},{"i":259.4,"v":5232.4},{"i":261.9,"v":5235.7},{"i":263.9,"v":5239.7},{"i":265.8,"v":5242.8},{"i":266.9,"v":5243.3},{"i":268.0,"v":5245.2},{"i":269.4,"v":5244.7},{"i":271.0,"v":5244.2},{"i":273.2,"v":5244.4},{"i":275.5,"v":5244.7},{"i":277.7,"v":5244.4},{"i":279.9,"v":5244.2},{"i":281.5,"v":5245.4},{"i":284.8,"v":5247.1},{"i":286.5,"v":5247.5},{"i":287.9,"v":5248.5},{"i":289.8,"v":5250.4},{"i":290.9,"v":5250.4},
{"i":292.6,"v":5250.0},{"i":293.7,"v":5249.4},{"i":295.9,"v":5248.5},{"i":298.1,"v":5247.8},{"i":300.9,"v":5247.1},{"i":303.1,"v":5246.1},{"i":305.0,"v":5245.4},{"i":307.0,"v":5245.2},{"i":308.6,"v":5245.4},{"i":310.5,"v":5245.9},{"i":313.6,"v":5246.1},{"i":314.7,"v":5246.9},{"i":316.3,"v":5247.1},{"i":317.7,"v":5246.9},{"i":319.1,"v":5249.4},{"i":320.7,"v":5252.8},{"i":322.9,"v":5256.1},{"i":325.2,"v":5259.9},{"i":327.4,"v":5262.7},{"i":329.6,"v":5264.6},{"i":331.8,"v":5265.9},{"i":333.5,"v":5266.7},{"i":335.0,"v":5267.5},{"i":336.0,"v":5269.7},{"i":337.0,"v":5271.8},{"i":338.4,"v":5277.0},{"i":340.1,"v":5283.6},{"i":341.7,"v":5290.3},{"i":342.8,"v":5294.4},
{"i":344.5,"v":5301.2},{"i":346.2,"v":5306.9},{"i":347.8,"v":5311.6},{"i":349.5,"v":5315.4},{"i":351.7,"v":5320.7},{"i":353.9,"v":5324.0},{"i":356.1,"v":5326.4},{"i":357.7,"v":5328.0},{"i":359.9,"v":5329.2},{"i":361.6,"v":5331.1},{"i":362.7,"v":5332.3},{"i":363.8,"v":5333.0},{"i":365.0,"v":5333.0},{"i":366.0,"v":5331.8},{"i":367.7,"v":5329.7},{"i":369.9,"v":5327.8},{"i":372.7,"v":5326.1},{"i":375.4,"v":5324.8},{"i":377.1,"v":5324.2},{"i":379.0,"v":5322.9},{"i":381.5,"v":5322.9},{"i":383.7,"v":5322.9},{"i":385.9,"v":5322.5},{"i":387.9,"v":5321.9},{"i":389.2,"v":5322.6},{"i":390.9,"v":5324.0},{"i":393.1,"v":5326.4},{"i":395.3,"v":5327.8},{"i":397.5,"v":5329.5},{"i":399.7,"v":5330.3},{"i":401.9,"v":5330.5},{"i":403.6,"v":5331.0},{"i":405.0,"v":5331.6}
],
"levels": [
{"y":5350.0,"a":342.95,"b":407.6},
{"y":5312.3,"a":341.6,"b":411.8}
],
"price": [{"p":5327.3}]
},
"layer": [
{
"data": {"name": "bars"},
"mark": {"type": "rule", "color": "#ffffff", "strokeWidth": 1},
"encoding": {
"x": {"field": "i", "type": "quantitative", "scale": {"domain": [-0.166, 405.47], "nice": false, "zero": false},
"axis": {"orient": "bottom", "title": null, "tickCount": 200,
"values": [6.35,14.35,22.35,29.35,37.35,45.35,52.35,60.35,68.35,75.35,83.35,91.35,98.35,106.35,114.35,121.35,129.35,137.35,144.35,152.35,160.35,167.35,175.35,183.35,190.35,198.35,206.35,213.35,221.35,229.35,236.35,244.35,252.35,259.35,267.35,275.35,282.35,290.35,298.35,305.35,313.35,321.35,328.35,336.35,344.35,351.35,359.35,367.35,374.35,382.35,390.35,397.35],
"labelExpr": "datum.value % 23 < 10 ? ['Apr 25','Apr 26','Apr 29','Apr 30','May 1','May 2','May 3','May 6','May 7','May 8','May 9','May 10','May 13','May 14','May 15','May 16','May 17','May 20'][floor(datum.value / 23)] : (datum.value % 23 < 18 ? '8:00' : (datum.value < 230 ? '16:00' : ''))",
"labelFontWeight": {"condition": {"test": "datum.value % 23 < 10", "value": "bold"}, "value": "normal"},
"grid": true,
"gridColor": {"condition": {"test": "datum.value % 23 > 18", "value": "#6a6a6a"}, "value": "#444444"},
"gridDash": {"condition": {"test": "datum.value % 23 > 18", "value": [7, 3]}, "value": [3, 3]},
"ticks": false, "domainColor": "#9a9a9a", "domainWidth": 1,
"labelPadding": 5, "labelOverlap": false, "labelBound": false, "labelFlush": false,
"labelFont": "DejaVu Sans", "labelFontSize": 11, "labelColor": "#ffffff"}},
"y": {"field": "l", "type": "quantitative", "scale": {"domain": [5000.23, 5369.57], "nice": false, "zero": false},
"axis": {"orient": "right", "title": null, "tickCount": 200,
"values": [5006.25,5012.5,5018.75,5025,5031.25,5037.5,5043.75,5050,5056.25,5062.5,5068.75,5075,5081.25,5087.5,5093.75,5100,5106.25,5112.5,5118.75,5125,5131.25,5137.5,5143.75,5150,5156.25,5162.5,5168.75,5175,5181.25,5187.5,5193.75,5200,5206.25,5212.5,5218.75,5225,5231.25,5237.5,5243.75,5250,5256.25,5262.5,5268.75,5275,5281.25,5287.5,5293.75,5300,5306.25,5312.5,5318.75,5325,5331.25,5337.5,5343.75,5350,5356.25,5362.5],
"format": ".2f", "grid": true, "gridColor": "#444444", "gridDash": [3, 3],
"tickSize": 4, "tickColor": "#9a9a9a", "domainColor": "#9a9a9a", "labelPadding": 2,
"labelOverlap": false, "labelBound": false, "labelFlush": false,
"labelFont": "DejaVu Sans", "labelFontSize": 11, "labelColor": "#ffffff"}},
"y2": {"field": "h"}
}
},
{
"data": {"name": "price"},
"mark": {"type": "rule", "color": "#777777", "strokeWidth": 1, "strokeDash": [8, 4]},
"encoding": {"y": {"field": "p", "type": "quantitative", "title": null}}
},
{
"data": {"name": "bars"},
"mark": {"type": "bar", "width": 4, "strokeWidth": 1},
"encoding": {
"x": {"field": "i", "type": "quantitative", "title": null},
"y": {"field": "o", "type": "quantitative", "title": null},
"y2": {"field": "c"},
"fill": {"condition": [{"test": "datum.c > datum.o", "value": "#00A000"}, {"test": "datum.c < datum.o", "value": "#DD0000"}], "value": "#FFFF00"},
"stroke": {"condition": [{"test": "datum.c > datum.o", "value": "#00A000"}, {"test": "datum.c < datum.o", "value": "#DD0000"}], "value": "#FFFF00"}
}
},
{
"data": {"name": "ma"},
"mark": {"type": "line", "color": "#D6C600", "strokeWidth": 1.5, "interpolate": "monotone", "clip": true},
"encoding": {
"x": {"field": "i", "type": "quantitative", "title": null},
"y": {"field": "v", "type": "quantitative", "title": null}
}
},
{
"data": {"name": "levels"},
"mark": {"type": "rule", "color": "#1E96F0", "strokeWidth": 4, "strokeCap": "butt", "clip": false},
"encoding": {
"x": {"field": "a", "type": "quantitative", "title": null},
"x2": {"field": "b"},
"y": {"field": "y", "type": "quantitative", "title": null}
}
}
]
}
